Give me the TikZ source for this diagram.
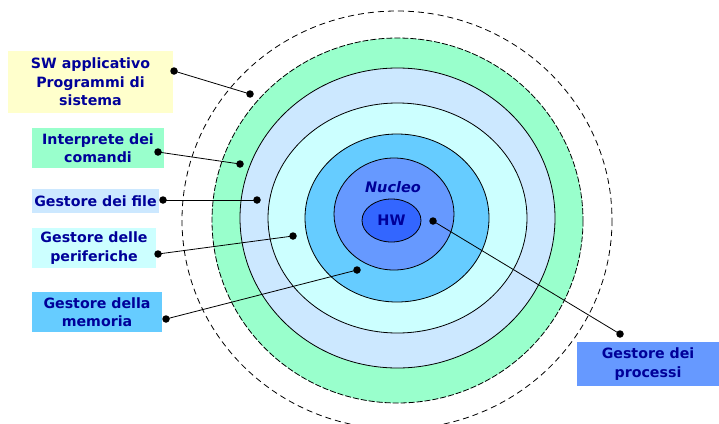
\documentclass[tikz,border=0pt]{standalone}
\usepackage{fontspec}
\setmainfont{DejaVu Sans}
\usetikzlibrary{shapes.geometric}
\definecolor{navy}{HTML}{000099}
\definecolor{cyellow}{HTML}{FFFFCC}
\definecolor{cgreen}{HTML}{99FFCC}
\definecolor{clblue}{HTML}{CCE8FF}
\definecolor{ccyan}{HTML}{CCFFFF}
\definecolor{cmblue}{HTML}{66CCFF}
\definecolor{cnuc}{HTML}{6699FF}
\definecolor{chw}{HTML}{3366FF}
\tikzset{
  lbl/.style={rectangle, inner sep=0pt, align=center, text=navy,
    font=\bfseries\fontsize{14.2}{18.5}\selectfont},
  ring/.style={draw=black, line width=0.8pt},
  dot/.style={circle, fill=black, inner sep=0pt, minimum size=7.5pt},
  conn/.style={draw=black, line width=0.8pt}
}
\begin{document}
\begin{tikzpicture}[x=1pt,y=-1pt]
\useasboundingbox (0,0) rectangle (719,423);
% rings
\draw[line width=0.8pt, dash pattern=on 6pt off 4pt] (397,220) ellipse [x radius=215, y radius=209];
\filldraw[fill=cgreen, draw=black, line width=0.8pt, dash pattern=on 6pt off 2pt] (397.5,220.5) ellipse [x radius=185.5, y radius=182.5];
\filldraw[ring, fill=clblue] (397.5,218) ellipse [x radius=157.5, y radius=150];
\filldraw[ring, fill=ccyan] (397.5,218) ellipse [x radius=129.5, y radius=115];
\filldraw[ring, fill=cmblue] (397,218) ellipse [x radius=92, y radius=84];
\filldraw[ring, fill=cnuc] (394,214) ellipse [x radius=60, y radius=56];
\node[ellipse, ring, fill=chw, minimum width=59pt, minimum height=43pt, inner sep=0pt, text=navy, font=\bfseries\fontsize{14.5}{16}\selectfont] (hw) at (391.5,220.5) {HW};
\node[text=navy, font=\bfseries\itshape\fontsize{14.5}{16}\selectfont] (nuc) at (393,187) {Nucleo};
% labels
\node[lbl, fill=cyellow, minimum width=165pt, minimum height=62pt] (sw) at (90.5,82) {SW applicativo\\Programmi di\\sistema};
\node[lbl, fill=cgreen, minimum width=132pt, minimum height=40pt] (int) at (98,148) {Interprete dei\\comandi};
\node[lbl, fill=clblue, minimum width=127pt, minimum height=24pt] (fil) at (95.5,201) {Gestore dei file};
\node[lbl, fill=ccyan, minimum width=124pt, minimum height=40pt] (per) at (94,248) {Gestore delle\\periferiche};
\node[lbl, fill=cmblue, minimum width=130pt, minimum height=40pt] (mem) at (97,312) {Gestore della\\memoria};
\node[lbl, fill=cnuc, minimum width=142pt, minimum height=44pt] (pro) at (648,364) {Gestore dei\\processi};
% dots
\node[dot] (a1) at (174,71) {};
\node[dot] (a2) at (250,94) {};
\node[dot] (b1) at (158,152) {};
\node[dot] (b2) at (240,164) {};
\node[dot] (c1) at (163,200) {};
\node[dot] (c2) at (257,200) {};
\node[dot] (d1) at (158,254) {};
\node[dot] (d2) at (293,236) {};
\node[dot] (e1) at (166,319) {};
\node[dot] (e2) at (357,270) {};
\node[dot] (f1) at (620,334) {};
\node[dot] (f2) at (433,221) {};
\draw[conn] (a1.center) -- (a2.center);
\draw[conn] (b1.center) -- (b2.center);
\draw[conn] (c1.center) -- (c2.center);
\draw[conn] (d1.center) -- (d2.center);
\draw[conn] (e1.center) -- (e2.center);
\draw[conn] (f1.center) -- (f2.center);
\end{tikzpicture}
\end{document}
